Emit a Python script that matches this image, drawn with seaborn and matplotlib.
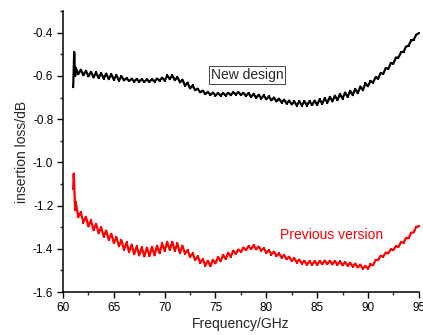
import pandas as pd
import matplotlib.pyplot as plt
import seaborn as sns
from matplotlib.ticker import MultipleLocator

sns.set_style("ticks")
plt.rcParams['font.family'] = ['Liberation Sans', 'DejaVu Sans']

# frequency samples (GHz)
freq = [61.0, 61.05, 61.1, 61.15, 61.2,
        61.25, 61.5, 61.75, 62.0, 62.25, 62.5, 62.75, 63.0,
        63.25, 63.5, 63.75, 64.0, 64.25, 64.5, 64.75, 65.0,
        65.25, 65.5, 65.75, 66.0, 66.25, 66.5, 66.75, 67.0,
        67.25, 67.5, 67.75, 68.0, 68.25, 68.5, 68.75, 69.0,
        69.25, 69.5, 69.75, 70.0, 70.25, 70.5, 70.75, 71.0,
        71.25, 71.5, 71.75, 72.0, 72.25, 72.5, 72.75, 73.0,
        73.25, 73.5, 73.75, 74.0, 74.25, 74.5, 74.75, 75.0,
        75.25, 75.5, 75.75, 76.0, 76.25, 76.5, 76.75, 77.0,
        77.25, 77.5, 77.75, 78.0, 78.25, 78.5, 78.75, 79.0,
        79.25, 79.5, 79.75, 80.0, 80.25, 80.5, 80.75, 81.0,
        81.25, 81.5, 81.75, 82.0, 82.25, 82.5, 82.75, 83.0,
        83.25, 83.5, 83.75, 84.0, 84.25, 84.5, 84.75, 85.0,
        85.25, 85.5, 85.75, 86.0, 86.25, 86.5, 86.75, 87.0,
        87.25, 87.5, 87.75, 88.0, 88.25, 88.5, 88.75, 89.0,
        89.25, 89.5, 89.75, 90.0, 90.25, 90.5, 90.75, 91.0,
        91.25, 91.5, 91.75, 92.0, 92.25, 92.5, 92.75, 93.0,
        93.25, 93.5, 93.75, 94.0, 94.25, 94.5, 94.75, 95.0]

new_design = [-0.652, -0.575, -0.49, -0.56, -0.60,
              -0.563, -0.592, -0.571, -0.597, -0.576, -0.602, -0.581, -0.607,
              -0.584, -0.610, -0.587, -0.612, -0.589, -0.615, -0.592, -0.617,
              -0.596, -0.622, -0.601, -0.621, -0.610, -0.624, -0.613, -0.626,
              -0.614, -0.627, -0.615, -0.628, -0.616, -0.627, -0.615, -0.626,
              -0.612, -0.622, -0.608, -0.622, -0.598, -0.615, -0.597, -0.620,
              -0.605, -0.630, -0.617, -0.645, -0.631, -0.658, -0.644, -0.666,
              -0.659, -0.676, -0.668, -0.684, -0.674, -0.688, -0.677, -0.691,
              -0.679, -0.691, -0.679, -0.691, -0.678, -0.689, -0.675, -0.686,
              -0.675, -0.688, -0.678, -0.693, -0.679, -0.697, -0.683, -0.701,
              -0.687, -0.705, -0.690, -0.708, -0.695, -0.713, -0.700, -0.718,
              -0.705, -0.723, -0.710, -0.728, -0.714, -0.732, -0.718, -0.737,
              -0.717, -0.737, -0.717, -0.737, -0.716, -0.735, -0.714, -0.734,
              -0.708, -0.729, -0.703, -0.724, -0.697, -0.718, -0.691, -0.712,
              -0.684, -0.705, -0.677, -0.697, -0.669, -0.689, -0.660, -0.680,
              -0.649, -0.666, -0.635, -0.648, -0.623, -0.631, -0.606, -0.613,
              -0.586, -0.591, -0.563, -0.568, -0.540, -0.543, -0.515, -0.515,
              -0.491, -0.488, -0.464, -0.460, -0.436, -0.433, -0.409, -0.403]

previous = [-1.121, -1.052, -1.09, -1.175, -1.22,
            -1.182, -1.253, -1.230, -1.278, -1.251, -1.296, -1.268, -1.313,
            -1.284, -1.328, -1.300, -1.343, -1.315, -1.358, -1.330, -1.373,
            -1.345, -1.388, -1.360, -1.405, -1.370, -1.415, -1.380, -1.425,
            -1.388, -1.430, -1.393, -1.435, -1.394, -1.433, -1.391, -1.430,
            -1.385, -1.420, -1.375, -1.410, -1.367, -1.405, -1.367, -1.410,
            -1.375, -1.420, -1.385, -1.422, -1.406, -1.437, -1.421, -1.452,
            -1.434, -1.465, -1.447, -1.477, -1.455, -1.480, -1.450, -1.467,
            -1.438, -1.457, -1.428, -1.447, -1.418, -1.437, -1.408, -1.423,
            -1.403, -1.414, -1.394, -1.406, -1.387, -1.401, -1.384, -1.402,
            -1.389, -1.408, -1.397, -1.418, -1.406, -1.426, -1.413, -1.433,
            -1.421, -1.441, -1.428, -1.448, -1.436, -1.456, -1.443, -1.463,
            -1.450, -1.468, -1.455, -1.473, -1.457, -1.473, -1.457, -1.473,
            -1.456, -1.471, -1.454, -1.470, -1.455, -1.472, -1.456, -1.473,
            -1.458, -1.476, -1.461, -1.478, -1.464, -1.482, -1.468, -1.486,
            -1.473, -1.492, -1.479, -1.491, -1.472, -1.476, -1.452, -1.451,
            -1.432, -1.436, -1.417, -1.421, -1.402, -1.406, -1.387, -1.391,
            -1.369, -1.371, -1.349, -1.351, -1.325, -1.324, -1.298, -1.296]

df = pd.DataFrame({'freq': freq, 'new': new_design, 'prev': previous})

fig = plt.figure(figsize=(4.23, 3.35), dpi=100)
ax = fig.add_axes([0.149, 0.128, 0.841, 0.839])

sns.lineplot(data=df, x='freq', y='new', ax=ax, color='black', marker='s',
             markersize=2.0, markeredgewidth=0, linewidth=1.6,
             estimator=None, sort=False)
sns.lineplot(data=df, x='freq', y='prev', ax=ax, color='red', marker='s',
             markersize=2.0, markeredgewidth=0, linewidth=1.6,
             estimator=None, sort=False)

ax.set_xlim(60, 95)
ax.set_ylim(-1.6, -0.3)
ax.xaxis.set_major_locator(MultipleLocator(5))
ax.xaxis.set_minor_locator(MultipleLocator(2.5))
ax.yaxis.set_minor_locator(MultipleLocator(0.1))
ax.set_yticks([-1.6, -1.4, -1.2, -1.0, -0.8, -0.6, -0.4])
ax.set_yticklabels(['-1.6', '-1.4', '-1.2', '-1.0', '-0.8', '-0.6', '-0.4'])

sns.despine(ax=ax)
for s in ['left', 'bottom']:
    ax.spines[s].set_linewidth(1.1)
    ax.spines[s].set_color('black')
ax.tick_params(which='major', direction='out', length=4, width=1.0,
               labelsize=8.5, colors='black', pad=3)
ax.tick_params(which='minor', direction='out', length=2.5, width=1.0)

ax.set_xlabel('Frequency/GHz', fontsize=10, labelpad=2)
ax.set_ylabel('insertion loss/dB', fontsize=10, labelpad=3)

ax.text(78.1, -0.594, 'New design', ha='center', va='center', fontsize=10,
        bbox=dict(facecolor='white', edgecolor='#444444', linewidth=0.7,
                  boxstyle='square,pad=0.15'))
ax.text(86.4, -1.337, 'Previous version', ha='center', va='center',
        fontsize=10, color='red')

plt.savefig('out.png', dpi=100)
